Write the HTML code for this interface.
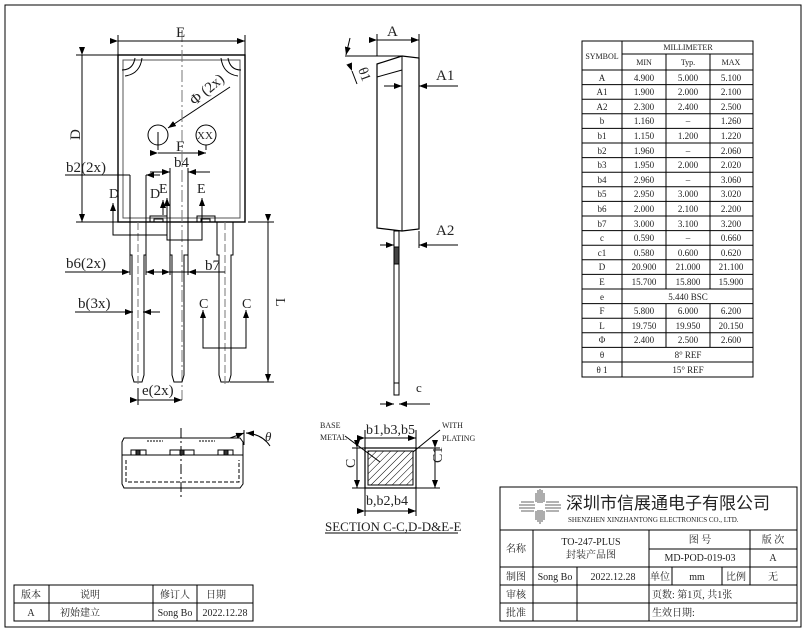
<!DOCTYPE html>
<html><head><meta charset="utf-8"><style>
html,body{margin:0;padding:0;background:#fff;}
svg{display:block;}
text{font-family:"Liberation Serif","Noto Serif CJK SC",serif;fill:#222;}
.cn{font-family:"Liberation Serif","Noto Sans CJK SC",sans-serif;}
.o{fill:#b85c00;}
</style></head><body>
<svg width="807" height="634" viewBox="0 0 807 634" xmlns="http://www.w3.org/2000/svg">
<defs>
<marker id="ar" markerWidth="8" markerHeight="6" refX="8" refY="3" orient="auto" markerUnits="userSpaceOnUse"><path d="M0,0 L8,3 L0,6 z" fill="#000"/></marker>
<pattern id="h" width="5" height="5" patternUnits="userSpaceOnUse" patternTransform="rotate(45)"><line x1="0" y1="0" x2="0" y2="5" stroke="#000" stroke-width="1"/></pattern>
</defs>
<g fill="none" stroke="#000" stroke-width="1">
<rect x="5" y="5" width="796" height="622" stroke-width="1"/>

<rect x="118" y="55" width="127" height="167" stroke-width="1.4"/>
<rect x="123" y="60" width="117" height="158" stroke="#555"/>
<path d="M122,70 Q133,70 135,58 M125,76 Q140,74 142,58" />
<path d="M241,70 Q230,70 228,58 M238,76 Q223,74 221,58" />
<circle cx="158" cy="135" r="10"/>
<circle cx="206" cy="135" r="10"/>
<line x1="158" y1="132" x2="158" y2="150"/>
<line x1="206" y1="145" x2="206" y2="150"/>
<line x1="158" y1="153" x2="206" y2="153" marker-start="url(#ar)" marker-end="url(#ar)"/>
<line x1="230" y1="87" x2="168" y2="128" marker-end="url(#ar)"/>
<line x1="182" y1="30" x2="182" y2="400" stroke="#777" stroke-dasharray="12,3,2,3"/>
<line x1="118" y1="35" x2="118" y2="55"/><line x1="245" y1="35" x2="245" y2="55"/>
<line x1="118" y1="41" x2="245" y2="41" marker-start="url(#ar)" marker-end="url(#ar)"/>
<line x1="76" y1="55" x2="118" y2="55"/><line x1="76" y1="222" x2="118" y2="222"/>
<line x1="82" y1="55" x2="82" y2="222" marker-start="url(#ar)" marker-end="url(#ar)"/>
<path d="M150,222 v-6 h17 v6 M154,222 v-3 h9 v3" stroke-width="1"/>
<path d="M197,222 v-6 h18 v6 M201,222 v-3 h9 v3"/>
<path d="M130,222 V255 H132 V375 L134,382 H142 L144,375 V255 H146 V222"/>
<path d="M170,222 V255 H172 V375 L174,382 H182 L184,375 V255 H188 V222"/>
<path d="M217,222 V255 H219 V375 L221,382 H229 L231,375 V255 H233 V222"/>
<line x1="138" y1="222" x2="138" y2="385" stroke="#777" stroke-dasharray="8,3"/>
<line x1="225" y1="222" x2="225" y2="385" stroke="#777" stroke-dasharray="8,3"/>
<line x1="248" y1="222" x2="274" y2="222"/><line x1="230" y1="382" x2="274" y2="382"/>
<line x1="268" y1="222" x2="268" y2="382" marker-start="url(#ar)" marker-end="url(#ar)"/>
<line x1="138" y1="388" x2="138" y2="405"/>
<line x1="138" y1="400" x2="182" y2="400" marker-start="url(#ar)" marker-end="url(#ar)"/>
<line x1="65" y1="175" x2="130" y2="175"/>
<line x1="130" y1="175" x2="130" y2="222"/>
<line x1="146" y1="175" x2="146" y2="222"/>
<line x1="160" y1="175" x2="146" y2="175" marker-end="url(#ar)"/>
<line x1="170" y1="168" x2="170" y2="222"/><line x1="188" y1="168" x2="188" y2="222"/>
<line x1="150" y1="172" x2="170" y2="172" marker-end="url(#ar)"/>
<line x1="210" y1="172" x2="188" y2="172" marker-end="url(#ar)"/>
<path d="M113,205 V235 H167 V205" />
<line x1="113" y1="218" x2="113" y2="203" marker-end="url(#ar)"/>
<line x1="163" y1="215" x2="163" y2="200" marker-end="url(#ar)"/>
<path d="M167,200 V240 H202 V200"/>
<line x1="167" y1="215" x2="167" y2="198" marker-end="url(#ar)"/>
<line x1="202" y1="215" x2="202" y2="198" marker-end="url(#ar)"/>
<line x1="65" y1="272" x2="130" y2="272" marker-end="url(#ar)"/>
<line x1="130" y1="255" x2="130" y2="275"/><line x1="146" y1="255" x2="146" y2="275"/>
<line x1="160" y1="272" x2="146" y2="272" marker-end="url(#ar)"/>
<line x1="170" y1="255" x2="170" y2="275"/><line x1="188" y1="255" x2="188" y2="275"/>
<line x1="170" y1="272" x2="225" y2="272"/>
<line x1="160" y1="272" x2="170" y2="272" marker-end="url(#ar)"/>
<line x1="200" y1="272" x2="188" y2="272" marker-end="url(#ar)"/>
<line x1="75" y1="312" x2="133" y2="312" marker-end="url(#ar)"/>
<line x1="160" y1="312" x2="143" y2="312" marker-end="url(#ar)"/>
<path d="M203,318 V348 H246 V318"/>
<line x1="203" y1="330" x2="203" y2="310" marker-end="url(#ar)"/>
<line x1="246" y1="330" x2="246" y2="310" marker-end="url(#ar)"/>

<path d="M377,64 L402,56 L419,58 V229 L402,231 L377,228 Z" stroke-width="1.2"/>
<line x1="402" y1="56" x2="402" y2="231"/>
<line x1="377" y1="77" x2="402" y2="70"/>
<line x1="377" y1="56" x2="377" y2="34"/><line x1="419" y1="58" x2="419" y2="34"/>
<line x1="377" y1="40" x2="419" y2="40" marker-start="url(#ar)" marker-end="url(#ar)"/>
<line x1="345" y1="56" x2="402" y2="56"/>
<line x1="350" y1="38" x2="346" y2="55" marker-end="url(#ar)"/>
<line x1="352" y1="71" x2="357" y2="84" marker-start="url(#ar)"/>
<line x1="384" y1="86" x2="402" y2="86" marker-end="url(#ar)"/>
<line x1="458" y1="86" x2="419" y2="86" marker-end="url(#ar)"/>
<line x1="419" y1="231" x2="419" y2="248"/>
<line x1="458" y1="245" x2="419" y2="245" marker-end="url(#ar)"/>
<line x1="380" y1="245" x2="394" y2="245" marker-end="url(#ar)"/>
<rect x="394" y="231" width="5" height="164"/>
<rect x="394" y="247" width="5" height="17" fill="#444"/>
<line x1="394" y1="383" x2="399" y2="383"/>
<line x1="380" y1="404" x2="394" y2="404" marker-end="url(#ar)"/>
<line x1="430" y1="404" x2="399" y2="404" marker-end="url(#ar)"/>

<path d="M122,442 L124,438 H240 L243,442 V484 L240,488 H124 L122,484 Z"/>
<line x1="122" y1="455" x2="243" y2="455"/>
<path d="M126,460 V482 H239 V460" stroke-dasharray="4,2"/>
<line x1="181" y1="428" x2="181" y2="498" stroke-dasharray="10,3,2,3"/>
<line x1="147" y1="441" x2="163" y2="441" stroke-dasharray="2,1"/>
<line x1="199" y1="441" x2="215" y2="441" stroke-dasharray="2,1"/>
<rect x="131" y="450" width="15" height="5"/><rect x="136" y="450" width="4" height="5" fill="#333"/>
<rect x="170" y="450" width="24" height="5"/><rect x="180" y="450" width="4" height="5" fill="#333"/>
<rect x="218" y="450" width="15" height="5"/><rect x="224" y="450" width="4" height="5" fill="#333"/>
<line x1="244" y1="430" x2="244" y2="445"/>
<line x1="230" y1="438" x2="244" y2="433" marker-end="url(#ar)"/>
<path d="M270,446 Q262,434 246,433" marker-end="url(#ar)"/>

<rect x="365" y="448" width="51" height="40" stroke-width="1.2"/>
<rect x="368" y="451" width="45" height="34" fill="url(#h)"/>
<line x1="365" y1="430" x2="365" y2="448"/><line x1="416" y1="430" x2="416" y2="448"/>
<line x1="365" y1="438" x2="416" y2="438" marker-start="url(#ar)" marker-end="url(#ar)"/>
<line x1="352" y1="448" x2="365" y2="448"/><line x1="352" y1="488" x2="365" y2="488"/>
<line x1="357" y1="448" x2="357" y2="488" marker-start="url(#ar)" marker-end="url(#ar)"/>
<line x1="416" y1="448" x2="440" y2="448"/><line x1="416" y1="488" x2="440" y2="488"/>
<line x1="435" y1="448" x2="435" y2="488" marker-start="url(#ar)" marker-end="url(#ar)"/>
<line x1="365" y1="488" x2="365" y2="516"/><line x1="416" y1="488" x2="416" y2="516"/>
<line x1="365" y1="511" x2="416" y2="511" marker-start="url(#ar)" marker-end="url(#ar)"/>
<line x1="345" y1="436" x2="380" y2="462"/>
<line x1="440" y1="430" x2="413" y2="452"/>
<line x1="325" y1="533" x2="458" y2="533"/>

<rect x="582" y="41" width="171" height="336"/>
<line x1="622" y1="41" x2="622" y2="377"/>
<line x1="622" y1="54" x2="753" y2="54"/>
<line x1="582" y1="70" x2="753" y2="70"/>
</g>

<g stroke="#000" stroke-width="1" fill="none">
<path d="M582,84.6H753M582,99.2H753M582,113.8H753M582,128.4H753M582,143H753M582,157.6H753M582,172.2H753M582,186.8H753M582,201.4H753M582,216H753M582,230.6H753M582,245.2H753M582,259.8H753M582,274.4H753M582,289H753M582,303.6H753M582,318.2H753M582,332.8H753M582,347.4H753M582,362H753"/>
<path d="M666,54V289M710,54V289M666,303.6V347.4M710,303.6V347.4"/>
</g>

<g font-size="8" text-anchor="middle">
<text x="602" y="59">SYMBOL</text>
<text x="688" y="50">MILLIMETER</text>
<text x="644" y="65">MIN</text><text x="688" y="65">Typ.</text><text x="731" y="65">MAX</text>
</g>
<g font-size="9" text-anchor="middle">
<text x="602" y="81">A</text><text x="644" y="81">4.900</text><text x="688" y="81">5.000</text><text x="731" y="81">5.100</text>
<text x="602" y="95">A1</text><text x="644" y="95">1.900</text><text x="688" y="95">2.000</text><text x="731" y="95">2.100</text>
<text x="602" y="110">A2</text><text x="644" y="110">2.300</text><text x="688" y="110">2.400</text><text x="731" y="110">2.500</text>
<text x="602" y="124">b</text><text x="644" y="124">1.160</text><text x="688" y="124">–</text><text x="731" y="124">1.260</text>
<text x="602" y="139">b1</text><text x="644" y="139">1.150</text><text x="688" y="139">1.200</text><text x="731" y="139">1.220</text>
<text x="602" y="154">b2</text><text x="644" y="154">1.960</text><text x="688" y="154">–</text><text x="731" y="154">2.060</text>
<text x="602" y="168">b3</text><text x="644" y="168">1.950</text><text x="688" y="168">2.000</text><text x="731" y="168">2.020</text>
<text x="602" y="183">b4</text><text x="644" y="183">2.960</text><text x="688" y="183">–</text><text x="731" y="183">3.060</text>
<text x="602" y="197">b5</text><text x="644" y="197">2.950</text><text x="688" y="197">3.000</text><text x="731" y="197">3.020</text>
<text x="602" y="212">b6</text><text x="644" y="212">2.000</text><text x="688" y="212">2.100</text><text x="731" y="212">2.200</text>
<text x="602" y="227">b7</text><text x="644" y="227">3.000</text><text x="688" y="227">3.100</text><text x="731" y="227">3.200</text>
<text x="602" y="241">c</text><text x="644" y="241">0.590</text><text x="688" y="241">–</text><text x="731" y="241">0.660</text>
<text x="602" y="256">c1</text><text x="644" y="256">0.580</text><text x="688" y="256">0.600</text><text x="731" y="256">0.620</text>
<text x="602" y="270">D</text><text x="644" y="270">20.900</text><text x="688" y="270">21.000</text><text x="731" y="270">21.100</text>
<text x="602" y="285">E</text><text x="644" y="285">15.700</text><text x="688" y="285">15.800</text><text x="731" y="285">15.900</text>
<text x="602" y="300">e</text><text x="688" y="300">5.440 BSC</text>
<text x="602" y="314">F</text><text x="644" y="314">5.800</text><text x="688" y="314">6.000</text><text x="731" y="314">6.200</text>
<text x="602" y="329">L</text><text x="644" y="329">19.750</text><text x="688" y="329">19.950</text><text x="731" y="329">20.150</text>
<text x="602" y="343">Φ</text><text x="644" y="343">2.400</text><text x="688" y="343">2.500</text><text x="731" y="343">2.600</text>
<text x="602" y="358">θ</text><text x="688" y="358">8° REF</text>
<text x="602" y="373">θ 1</text><text x="688" y="373">15° REF</text>
</g>

<g font-size="15">
<text x="176" y="37">E</text>
<text x="75" y="145" transform="rotate(-90 75 140)">D</text>
<text x="189" y="100" transform="rotate(-40 200 95)">Φ (2x)</text>
<text x="176" y="151">F</text>
<text x="174" y="167">b4</text>
<text x="66" y="172">b2(2x)</text>
<text x="66" y="268">b6(2x)</text>
<text x="205" y="270">b7</text>
<text x="78" y="308">b(3x)</text>
<text x="142" y="395">e(2x)</text>
<text x="387" y="36">A</text>
<text x="436" y="80">A1</text>
<text x="436" y="235">A2</text>
<text x="416" y="392" font-size="13">c</text>
<text x="197" y="139" font-size="11">XX</text>
</g>
<g font-size="14" class="o">
<text x="109" y="198">D</text><text x="150" y="198">D</text>
<text x="159" y="193">E</text><text x="197" y="193">E</text>
<text x="199" y="308">C</text><text x="242" y="308">C</text>
<text x="276" y="298" transform="rotate(90 276 298)">L</text>
<text x="354" y="75" transform="rotate(70 360 75)">θ1</text>
<text x="265" y="441" font-style="italic" font-size="13">θ</text>
</g>
<g font-size="14">
<text x="366" y="434">b1,b3,b5</text>
<text x="366" y="505">b,b2,b4</text>
<text x="350" y="473" transform="rotate(-90 350 468)">C</text>
<text x="445" y="470" transform="rotate(-90 440 468)">C1</text>
<text x="325" y="531" font-size="13">SECTION C-C,D-D&amp;E-E</text>
</g>
<g font-size="8">
<text x="320" y="428">BASE</text><text x="320" y="440">METAL</text>
<text x="442" y="428">WITH</text><text x="442" y="441">PLATING</text>
</g>

<g fill="none" stroke="#000" stroke-width="1">
<rect x="500" y="487" width="297" height="134"/>
<line x1="500" y1="530" x2="797" y2="530"/>
<line x1="500" y1="567" x2="797" y2="567"/>
<line x1="500" y1="585" x2="797" y2="585"/>
<line x1="500" y1="603" x2="797" y2="603"/>
<line x1="649" y1="549" x2="797" y2="549"/>
<line x1="533" y1="530" x2="533" y2="621"/>
<line x1="649" y1="530" x2="649" y2="621"/>
<line x1="750" y1="530" x2="750" y2="585"/>
<line x1="577" y1="567" x2="577" y2="621"/>
<line x1="672" y1="567" x2="672" y2="585"/>
<line x1="722" y1="567" x2="722" y2="585"/>
<rect x="14" y="585" width="239" height="36"/>
<line x1="14" y1="603" x2="253" y2="603"/>
<line x1="49" y1="585" x2="49" y2="621"/>
<line x1="153" y1="585" x2="153" y2="621"/>
<line x1="197" y1="585" x2="197" y2="621"/>
<g stroke="#333" stroke-width="0.8">
<path d="M521,502H534M519,505H535M519,508H535M521,511H534M546,502H559M545,505H561M545,508H561M546,511H559"/>
<path d="M536,493V502M538,490V503M540,489V503M542,490V503M544,493V502M536,511V520M538,510V522M540,510V524M542,510V522M544,511V520"/>
</g>
</g>
<g class="cn" font-size="10" text-anchor="middle">
<text x="31" y="598">版本</text><text x="90" y="598">说明</text><text x="175" y="598">修订人</text><text x="216" y="598">日期</text>
<text x="31" y="616">A</text><text x="80" y="616">初始建立</text><text x="175" y="616">Song Bo</text><text x="225" y="616">2022.12.28</text>
<text x="516" y="552">名称</text>
<text x="591" y="545">TO-247-PLUS</text><text x="591" y="558">封装产品图</text>
<text x="700" y="543">图 号</text><text x="773" y="543">版 次</text>
<text x="700" y="561">MD-POD-019-03</text><text x="773" y="561">A</text>
<text x="516" y="580">制图</text><text x="555" y="580">Song Bo</text><text x="613" y="580">2022.12.28</text>
<text x="660" y="580">单位</text><text x="697" y="580">mm</text><text x="736" y="580">比例</text><text x="773" y="580">无</text>
<text x="516" y="598">审核</text><text x="516" y="616">批准</text>
</g>
<g class="cn" font-size="10">
<text x="652" y="598">页数:  第1页, 共1张</text>
<text x="652" y="616">生效日期:</text>
</g>
<text x="566" y="509" class="cn" font-size="17">深圳市信展通电子有限公司</text>
<text x="568" y="522" font-size="7">SHENZHEN XINZHANTONG ELECTRONICS CO., LTD.</text>
</svg>
</body></html>
